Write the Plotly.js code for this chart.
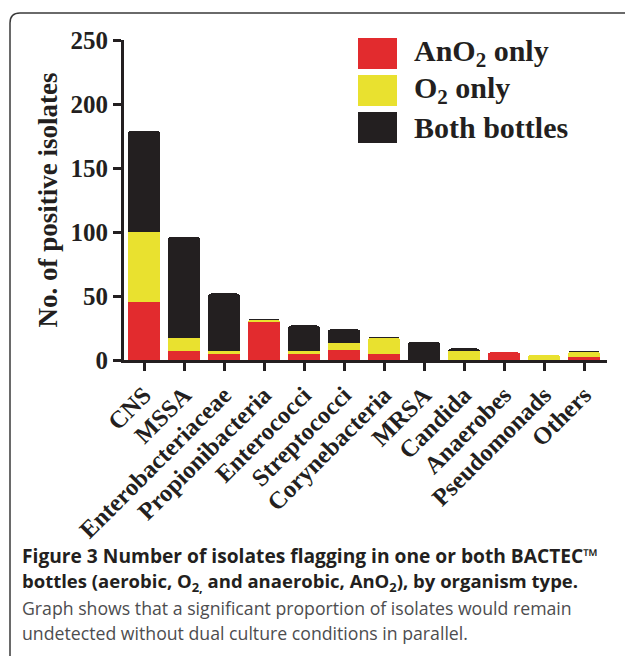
<!DOCTYPE html>
<html>
<head>
<meta charset="utf-8">
<script src="https://cdn.plot.ly/plotly-3.0.1.min.js"></script>
<style>html,body{margin:0;padding:0;background:#fff;}#chart{width:625px;height:656px;}</style>
</head>
<body>
<div id="chart"></div>
<script>
// ---- data ----
var categories = ['CNS','MSSA','Enterobacteriaceae','Propionibacteria','Enterococci','Streptococci','Corynebacteria','MRSA','Candida','Anaerobes','Pseudomonads','Others'];
var anO2Only  = [45, 7, 5, 30, 5, 8, 5, 0, 0, 6, 0, 2];
var o2Only    = [55, 10, 2, 1, 2, 5, 12, 0, 7, 0, 4, 4];
var bothBottles = [79, 79, 45, 1, 20, 11, 1, 14, 2, 0, 0, 1];
var seriesNames = ['AnO<sub>2</sub> only', 'O<sub>2</sub> only', 'Both bottles'];
var seriesColors = ['#e22b2e', '#e9e12f', '#231f20'];
var yTicks = [0, 50, 100, 150, 200, 250];
var captionTitle = '<b>Figure 3 Number of isolates flagging in one or both BACTEC™</b><br>' +
  '<b><span style="font-size:18.5px">bottles (aerobic, O<sub>2,</sub> and anaerobic, AnO<sub>2</sub>), by organism type.</span></b>';
var captionBody = [
  'Graph shows that a significant proportion of isolates would remain',
  'undetected without dual culture conditions in parallel.'
];

var W = 625, H = 656;
function px(x){ return x / W; }
function py(y){ return 1 - y / H; }

var seriesValues = [anO2Only, o2Only, bothBottles];
var traces = seriesValues.map(function(vals, i){
  return {
    type: 'bar', x: categories, y: vals, name: seriesNames[i],
    marker: {color: seriesColors[i], line: {width: 0}, cornerradius: 3},
    showlegend: false, hoverinfo: 'x+y+name'
  };
});

var serif = 'Liberation Serif, Times New Roman, serif';
var ink = '#231f20';

var shapes = [];
var annotations = [];
// legend (drawn manually for large swatches)
var legTop = [38, 75, 112];
for (var i = 0; i < 3; i++) {
  shapes.push({type: 'rect', xref: 'paper', yref: 'paper',
    x0: px(358), x1: px(397), y0: py(legTop[i] + 31), y1: py(legTop[i]),
    fillcolor: seriesColors[i], line: {width: 0}});
  annotations.push({xref: 'paper', yref: 'paper', x: px(412), y: py(legTop[i] + 15),
    xanchor: 'left', yanchor: 'middle', showarrow: false, text: '<b>' + seriesNames[i] + '</b>',
    font: {family: serif, size: 30, color: ink}});
}
// caption
annotations.push({xref: 'paper', yref: 'paper', x: px(21), y: py(568.5),
  xanchor: 'left', yanchor: 'middle', align: 'left', showarrow: false, borderpad: 0,
  text: captionTitle, font: {family: 'Open Sans, sans-serif', size: 19.2, color: ink}});
var bodyY = [607.5, 632.5];
for (var j = 0; j < captionBody.length; j++) {
  annotations.push({xref: 'paper', yref: 'paper', x: px(21), y: py(bodyY[j]),
    xanchor: 'left', yanchor: 'middle', showarrow: false, borderpad: 0, text: captionBody[j],
    font: {family: 'Open Sans, sans-serif', size: 17.7, color: '#4d4d4f'}});
}
// border frame (rounded top-left)
var r = 10;
shapes.push({type: 'path', xref: 'paper', yref: 'paper',
  path: 'M ' + px(10) + ',' + py(660) + ' L ' + px(10) + ',' + py(13 + r) +
        ' Q ' + px(10) + ',' + py(13) + ' ' + px(10 + r) + ',' + py(13) +
        ' L ' + px(630) + ',' + py(13),
  line: {color: '#3a3a3a', width: 1.5}});

var layout = {
  width: W, height: H,
  margin: {l: 0, r: 0, t: 0, b: 0},
  paper_bgcolor: '#ffffff', plot_bgcolor: '#ffffff',
  barmode: 'stack', bargap: 0.2,
  showlegend: false,
  xaxis: {
    domain: [px(124), px(607)], range: [-0.5, 11.575],
    type: 'category', showline: true, linewidth: 3, linecolor: ink,
    ticks: 'outside', ticklen: 8, tickwidth: 3, tickcolor: ink,
    tickangle: -45, showgrid: false, zeroline: false, fixedrange: true,
    tickfont: {family: serif, size: 24.5, color: ink, weight: 'bold'}
  },
  yaxis: {
    domain: [py(360), py(40)], range: [0, 250],
    tickvals: yTicks, ticktext: yTicks.map(String),
    showline: true, linewidth: 3, linecolor: ink,
    ticks: 'outside', ticklen: 8, tickwidth: 3, tickcolor: ink,
    showgrid: false, zeroline: false, fixedrange: true,
    tickfont: {family: serif, size: 25, color: ink, weight: 'bold'},
    title: {text: '<b>No. of positive isolates</b>', font: {family: serif, size: 27, color: ink}, standoff: 6}
  },
  shapes: shapes,
  annotations: annotations
};

Plotly.newPlot('chart', traces, layout, {displayModeBar: false, staticPlot: true});
</script>
</body>
</html>
